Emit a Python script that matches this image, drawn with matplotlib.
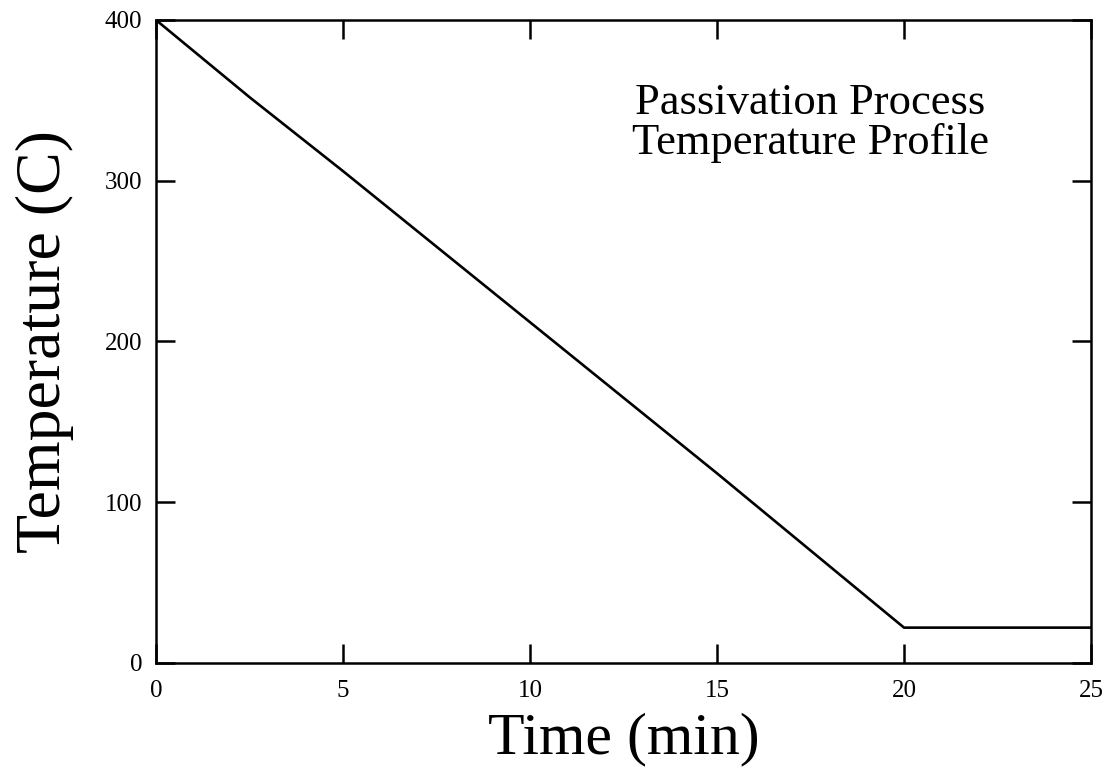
import matplotlib
matplotlib.use("Agg")
import matplotlib.pyplot as plt

# temperature profile
time_min = [0, 2.5, 5, 7.5, 10, 12.5, 15, 17.5, 20, 25]
temp_c = [400, 352, 306, 259, 212, 165, 118, 70, 22, 22]

plt.rcParams['font.family'] = ['Liberation Serif', 'DejaVu Serif']

fig = plt.figure(figsize=(11.11, 7.72), dpi=100)
ax = fig.add_axes([0.1404, 0.1412, 0.8416, 0.8329])

ax.plot(time_min, temp_c, color='black', lw=1.9)

ax.set_xlim(0, 25)
ax.set_ylim(0, 400)
ax.set_xticks([0, 5, 10, 15, 20, 25])
ax.set_yticks([0, 100, 200, 300, 400])
ax.tick_params(direction='in', length=14, width=1.8, labelsize=18,
               top=True, right=True)
ax.tick_params(axis='x', pad=12)
ax.tick_params(axis='y', pad=10)
for s in ax.spines.values():
    s.set_linewidth(1.8)

ax.set_xlabel('Time (min)', fontsize=43, labelpad=8)
ax.set_ylabel('Temperature (C)', fontsize=46, labelpad=22)

ax.text(17.5, 336, 'Passivation Process\nTemperature Profile',
        fontsize=32, ha='center', va='center', linespacing=1.0)

fig.savefig('out.png', dpi=100)
